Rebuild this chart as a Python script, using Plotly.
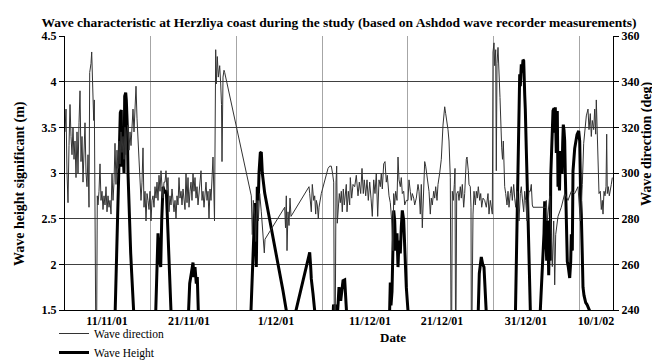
import plotly.graph_objects as go

# ---- data (x = sample position along the record) ----
date_labels = ["11/11/01", "21/11/01", "1/12/01", "11/12/01", "21/12/01", "31/12/01", "10/1/02"]
date_label_pos = [42, 124, 211, 305, 377, 461, 531]

# wave direction readings (sample, deg)
direction_readings = [
    (0, 318), (1, 328), (2, 300), (3, 287), (4, 312), (5, 330), (6, 316), (7, 308), (8, 320), (9, 306),
    (10, 314), (11, 298), (12, 318), (13, 300), (14, 322), (15, 336), (16, 305), (17, 316), (18, 296), (19, 311),
    (20, 322), (21, 300), (22, 294), (23, 308), (24, 285), (24.7, 344), (26, 348), (26.7, 353), (27.3, 342), (28, 339),
    (28.7, 323), (29.3, 332), (30, 288), (30.7, 236), (31.7, 236), (32.3, 290), (33, 286), (34, 292), (35, 304), (36, 288),
    (37, 292), (38, 284), (39, 290), (40, 286), (41, 294), (42, 283), (43, 290), (44, 285), (45, 288), (46, 282),
    (47, 300), (48, 288), (49, 296), (50, 313), (51, 295), (52, 310), (53, 302), (54, 314), (55, 304), (56, 318),
    (57, 309), (58, 316), (59, 306), (60, 320), (61, 308), (62, 318), (63, 321), (64, 310), (65, 318), (66, 312),
    (67, 322), (68, 328), (69, 318), (70, 332), (71, 338), (72, 324), (73, 316), (74, 309), (75, 300), (76, 288),
    (77, 296), (78, 311), (79, 285), (80, 292), (81, 279), (82, 291), (83, 288), (84, 284), (85, 292), (86, 279),
    (87, 288), (88, 290), (89, 285), (90, 294), (91, 289), (92, 296), (93, 288), (94, 299), (95, 292), (96, 301),
    (97, 294), (98, 289), (99, 296), (100, 296), (101, 301), (102, 292), (103, 298), (104, 283), (105, 290), (106, 286),
    (107, 293), (108, 289), (109, 283), (110, 288), (111, 280), (112, 290), (113, 286), (114, 298), (115, 289), (116, 292),
    (117, 286), (118, 293), (119, 288), (120, 284), (121, 300), (122, 287), (123, 298), (124, 285), (125, 292), (126, 296),
    (127, 288), (128, 300), (129, 292), (130, 298), (131, 289), (132, 294), (133, 286), (134, 291), (135, 295), (136, 301),
    (137, 288), (138, 292), (139, 285), (140, 290), (141, 296), (142, 288), (143, 292), (144, 280), (145, 293), (146, 288),
    (147, 296), (148, 307), (149.5, 279), (150.2, 346), (150.7, 354), (151.3, 339), (152.3, 351), (153.3, 342), (154.7, 347), (155.7, 339),
    (156.5, 330), (157, 305), (157.5, 335), (158, 342), (159, 345), (159.7, 344),
    (186.3, 290), (187.3, 273), (188.3, 288), (189.7, 282), (190.7, 270), (192, 288), (193.3, 279), (194.7, 291), (196.3, 283), (198, 273),
    (199.3, 265), (200, 271),
    (219.7, 285), (220.5, 276), (221.3, 290), (222, 266), (223, 283), (224, 277), (225, 289), (226, 281),
    (244, 294), (244.7, 291), (246.3, 283), (247.3, 295), (248.7, 288), (249.7, 290), (250.7, 282), (251.3, 288), (252.3, 286), (253.3, 280),
    (254, 285), (256.3, 291), (258, 294), (259.7, 297), (261.3, 300), (263, 302), (264.7, 303), (266.3, 303), (267.5, 300), (268.7, 296),
    (269.3, 236), (270.3, 236), (271, 296), (271.7, 303), (272.3, 278), (273.3, 284), (274.3, 291), (275.3, 287), (276.3, 292), (277.3, 283),
    (278.3, 293), (279.3, 286), (280.3, 290), (281.3, 295), (282, 283), (283.3, 292), (284.7, 286), (285.3, 298), (286.7, 289), (288, 295),
    (289.7, 294), (291.3, 299), (293, 290), (294.3, 296), (295.7, 291), (297, 302), (298.3, 291), (299.3, 297), (300.7, 290), (302, 297),
    (303.3, 288), (304.7, 296), (306, 289), (307.3, 281), (308.7, 297), (310, 291), (311.3, 300), (312.7, 281), (314, 297), (315.3, 294),
    (316.3, 300), (317.3, 293), (318.7, 304), (320, 305), (321.3, 296), (322.3, 299), (324, 290), (325.3, 287), (326.7, 279), (328, 266),
    (328.7, 291), (329.7, 286), (330.7, 292), (332, 288), (333, 307), (334, 297), (335.3, 294), (336.3, 298), (337.3, 291), (338.7, 292),
    (339.7, 286), (341.3, 288), (343, 288), (344, 297), (345.3, 292), (346.3, 288), (347.3, 291), (348.7, 289), (349.7, 286), (351.3, 289),
    (353, 295), (354, 292), (355.3, 282), (356.3, 295), (357.3, 276), (358.7, 295), (359.7, 305), (360.7, 303), (362, 298), (363, 297),
    (364, 292), (365.3, 282), (366.3, 289), (367.3, 286), (368.7, 292), (369.7, 289), (370.7, 294), (372, 288), (373, 295), (374.7, 300),
    (376.3, 306), (378, 321), (379.7, 329), (380.7, 326), (382, 323), (383, 319), (384, 314), (384.7, 306), (385.3, 298), (386, 236),
    (386.7, 236), (387.3, 292), (388.3, 288), (389.3, 295), (390, 302), (390.5, 236), (391, 236), (391.7, 291), (393, 292), (394, 288),
    (395.3, 294), (396.3, 289), (397.3, 295), (398.7, 285), (399.7, 291), (401.3, 306), (402, 307), (403.3, 301), (404, 295), (405.3, 294),
    (406, 285), (406.3, 236), (407, 236), (408, 282), (409, 292), (410.3, 286), (411.3, 292), (412.3, 289), (413.3, 294), (414.7, 288),
    (415.7, 291), (416.7, 285), (418, 289), (419.7, 288), (421.3, 285), (423, 291), (424, 282), (425.3, 288), (426.3, 285), (427.3, 282),
    (428, 353), (429, 357), (429.7, 347), (430.7, 354), (431.3, 301), (432, 348), (433, 355), (434, 340), (435, 333), (436.7, 311),
    (437.5, 306), (438.3, 314), (439, 303), (439.7, 294), (440.7, 291), (442, 286), (443, 292), (444, 285), (445.3, 291), (446.3, 294),
    (447.3, 288), (448.7, 295), (449.7, 289), (450.7, 285), (452, 292), (453, 283), (454, 279), (455.3, 291), (456.3, 294), (457.3, 289),
    (458.7, 283), (459.7, 292), (460.7, 288), (462, 279), (463, 289), (464, 292), (465.3, 292), (466.3, 295), (467.3, 286), (468, 285),
    (481, 285), (481.3, 288), (482.3, 279), (483.3, 284), (484.7, 290), (486.3, 273), (487.3, 259), (488.7, 279), (489.7, 251), (490.7, 273),
    (492, 279), (493, 281), (496.3, 285), (499.7, 291), (503, 288), (506.3, 292), (509.7, 291), (513, 294), (515.3, 279), (517.3, 295),
    (518.7, 313), (519.7, 319), (521.3, 325), (523, 328), (524, 319), (525.3, 326), (526.3, 316), (527.3, 323), (528.7, 319), (529.7, 328),
    (530.7, 317), (531.3, 332), (532.3, 313), (533, 298), (534, 291), (535.3, 292), (536.3, 284), (537.3, 288), (538, 282), (539, 292),
    (540, 290), (541, 294), (541.7, 317), (542.3, 291), (543.3, 294), (544.3, 290), (545.3, 292), (546.3, 295), (547.3, 298),
]

# significant wave height readings (sample, m); values under 1.5 fall below the axis
height_readings = [
    (49.5, 1.2), (51.3, 1.97), (53, 2.48), (54.7, 3.14), (55.3, 3.66), (56.3, 3.69), (56.7, 3.07), (58, 3.25), (59, 3.0), (59.7, 3.84),
    (60.7, 3.88), (61.3, 3.8), (62.3, 3.51), (63, 3.0), (64, 2.59), (64.7, 2.34), (65.7, 2.12), (66.7, 1.9), (68, 1.68), (69, 1.49), (70, 1.2),
    (90, 1.2), (93, 2.34), (94.7, 2.04), (95.7, 1.97), (96.7, 2.48), (98, 2.85), (99.7, 2.78), (101.3, 2.81), (103, 2.34), (104.7, 1.97),
    (106.3, 1.49), (107, 1.2),
    (122.5, 1.2), (124.7, 1.79), (126.3, 1.9), (128, 2.02), (129, 1.86), (130, 1.97), (131.3, 1.79), (132.3, 1.86), (133.3, 1.49), (134, 1.2),
    (185, 1.2), (188, 2.19), (189, 2.48), (190, 2.67), (191.3, 1.97), (192.3, 2.85), (193.3, 2.7), (194, 3.0), (195.3, 3.22), (196.3, 3.23),
    (197.3, 3.0), (198, 2.93), (199.7, 2.78), (218, 1.71), (222, 1.45), (223, 1.2),
    (229, 1.2), (230, 1.45), (244, 2.12), (244.7, 2.13), (245.7, 1.97), (246.3, 1.84), (248, 1.68), (249.7, 1.49), (250.5, 1.2),
    (267.5, 1.2), (268.5, 1.56), (269.5, 1.48), (270.5, 1.56), (271.5, 1.3), (273, 1.55), (274, 1.75), (275.7, 1.6), (277, 1.7), (278, 1.82),
    (279.7, 1.83), (280.7, 1.6), (282, 1.45), (283, 1.2),
    (324, 1.2), (325.3, 1.8), (326, 1.55), (327, 1.7), (328, 2.2), (328.7, 2.59), (329.7, 2.48), (330.7, 2.15), (332, 2.34), (333, 1.97),
    (334, 2.26), (335.3, 2.12), (336.3, 2.41), (337.3, 2.59), (338.7, 2.48), (339.7, 2.15), (341.3, 1.75), (343, 1.49), (344, 1.2),
    (412.5, 1.2), (414.3, 1.9), (416.3, 2.08), (417.7, 2.0), (419, 1.97), (420.3, 1.75), (421.7, 1.49), (422.5, 1.2),
    (450, 1.2), (452.3, 2.5), (453.3, 3.2), (454, 3.8), (454.7, 4.08), (455.3, 3.95), (455.7, 4.13), (456.3, 4.19), (457, 4.1), (457.3, 4.2),
    (458, 4.24), (458.7, 4.23), (459.3, 4.1), (459.7, 3.86), (460.3, 3.7), (460.7, 3.42), (461.3, 3.26), (462.3, 2.84), (463.3, 2.4),
    (463.7, 2.32), (464.7, 1.6), (465.3, 1.45), (466, 1.2),
    (474, 1.2), (477.3, 1.97), (479, 2.34), (479.7, 2.69), (480.7, 2.34), (481.7, 2.04), (482.7, 2.48), (483.7, 1.88), (484.3, 2.26),
    (485.3, 2.04), (485.7, 2.95), (487, 3.33), (488, 3.68), (489, 3.71), (489.7, 3.44), (490.3, 3.72), (491.3, 3.22), (492.3, 3.68),
    (493, 2.85), (493.7, 2.95), (494.5, 2.81), (495.3, 3.24), (496.3, 3.0), (497, 2.99), (497.7, 3.33), (498.3, 3.53), (499, 3.47),
    (499.7, 3.35), (500.3, 2.99), (501.3, 2.41), (502.3, 2.03), (503.3, 1.97), (504.7, 1.85), (505.7, 2.03), (506.3, 2.33), (507.3, 2.15),
    (508, 3.02), (509.7, 3.27), (511.3, 3.4), (512, 3.42), (513.7, 3.46), (514.7, 3.35), (515.7, 2.7), (516.3, 2.55), (517.3, 2.1),
    (518, 1.75), (519, 1.66), (520.7, 1.58), (522, 1.56), (523.5, 1.53), (524.7, 1.49), (525.5, 1.2),
]

dir_x = [p[0] for p in direction_readings]
dir_deg = [p[1] for p in direction_readings]
hgt_x = [p[0] for p in height_readings]
hgt_m = [p[1] for p in height_readings]

SERIF = "Liberation Serif, Times New Roman, serif"
bold = dict(family=SERIF, size=12, color="black", weight="bold")

fig = go.Figure()
fig.add_trace(go.Scatter(x=hgt_x, y=hgt_m, mode="lines", name="Wave Height",
                         line=dict(color="black", width=3), legendrank=2))
fig.add_trace(go.Scatter(x=dir_x, y=dir_deg, mode="lines", name="Wave direction", yaxis="y2",
                         line=dict(color="#333333", width=1), legendrank=1))

grid_x = [85.7 * k for k in range(1, 7)]

fig.update_layout(
    width=660, height=362,
    margin=dict(l=57, r=55, t=28, b=60, autoexpand=False),
    paper_bgcolor="white", plot_bgcolor="white",
    title=dict(text="<b>Wave characteristic at Herzliya coast during the study (based on Ashdod wave recorder measurements)</b>",
               font=dict(family=SERIF, size=13.5, color="black"),
               x=0.5, xref="paper", xanchor="center", y=1 - 14 / 362, yref="container", yanchor="middle"),
    xaxis=dict(range=[0, 548], tickmode="array", tickvals=date_label_pos, ticktext=date_labels,
               showgrid=False, zeroline=False, showline=True, linecolor="black", linewidth=1,
               ticks="", tickfont=bold, automargin=False,
               minor=dict(tickmode="array", tickvals=grid_x, showgrid=True, gridcolor="#a6a6a6", gridwidth=1, ticks="")),
    yaxis=dict(range=[1.5, 4.5], tick0=1.5, dtick=0.5, showgrid=True, gridcolor="#404040", gridwidth=1,
               zeroline=False, showline=True, linecolor="black", ticks="outside", ticklen=5,
               tickcolor="black", tickfont=bold, automargin=False),
    yaxis2=dict(range=[240, 360], tick0=240, dtick=20, overlaying="y", side="right", showgrid=False,
                zeroline=False, showline=True, linecolor="black", ticks="outside", ticklen=5,
                tickcolor="black", tickfont=bold, automargin=False),
    legend=dict(orientation="v", x=46 / 660, xref="container", xanchor="left",
                y=1 - 311 / 362, yref="container", yanchor="top",
                font=dict(family=SERIF, size=11.5, color="black"), bgcolor="rgba(0,0,0,0)",
                tracegroupgap=0),
    showlegend=True,
    annotations=[
        dict(text="<b>Wave height significant (m)</b>", textangle=-90, xref="paper", yref="paper",
             x=(12 - 57) / 548, y=(302 - 176) / 274, xanchor="center", yanchor="middle",
             showarrow=False, font=dict(family=SERIF, size=14, color="black")),
        dict(text="<b>Wave direction (deg)</b>", textangle=-90, xref="paper", yref="paper",
             x=(639 - 57) / 548, y=(302 - 136) / 274, xanchor="center", yanchor="middle",
             showarrow=False, font=dict(family=SERIF, size=14, color="black")),
        dict(text="<b>Date</b>", xref="paper", yref="paper",
             x=(385 - 57) / 548, y=(302 - 329) / 274, xanchor="center", yanchor="middle",
             showarrow=False, font=dict(family=SERIF, size=13, color="black")),
    ],
)

fig.write_html("out.html")
